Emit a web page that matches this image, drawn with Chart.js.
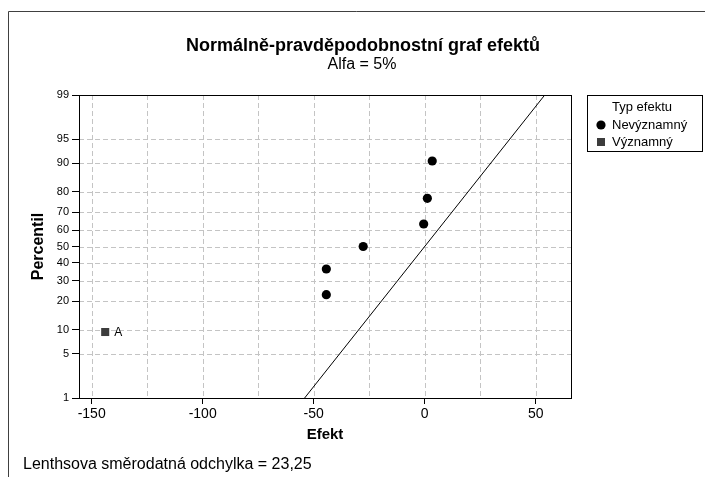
<!DOCTYPE html>
<html><head><meta charset="utf-8">
<script src="https://cdn.jsdelivr.net/npm/chart.js@4"></script>
<style>html,body{margin:0;padding:0;background:#fff}#wrap{position:relative;width:705px;height:477px}canvas{display:block}</style>
</head><body><div id="wrap"><canvas id="c" width="705" height="477"></canvas></div>
<script>
// ---- data ----
const significantEffects = [-143.9];
const significantPercentiles = [9.46];
const significantLabels = ['A'];
const insignificantEffects = [-44.3, -44.3, -27.7, -0.45, 1.2, 3.4];
const insignificantPercentiles = [22.97, 36.49, 50, 63.51, 77.03, 90.54];
const lineEffects = [-54.08, 54.08];
const linePercentiles = [1, 99];
const percentTicks = [1, 5, 10, 20, 30, 40, 50, 60, 70, 80, 90, 95, 99];
const effectTicks = [-150, -125, -100, -75, -50, -25, 0, 25, 50];
const effectLabels = ['-150', '', '-100', '', '-50', '', '0', '', '50'];
const titleText = 'Normálně-pravděpodobnostní graf efektů';
const subtitleText = 'Alfa = 5%';
const xTitle = 'Efekt';
const yTitle = 'Percentil';
const footerText = 'Lenthsova směrodatná odchylka = 23,25';
const legendTitle = 'Typ efektu';
const legendNames = ['Nevýznamný', 'Významný'];

const FONT = "'Liberation Sans', Arial, sans-serif";

function invNorm(p){
  const a=[-3.969683028665376e+01,2.209460984245205e+02,-2.759285104469687e+02,1.383577518672690e+02,-3.066479806614716e+01,2.506628277459239e+00];
  const b=[-5.447609879822406e+01,1.615858368580409e+02,-1.556989798598866e+02,6.680131188771972e+01,-1.328068155288572e+01];
  const c=[-7.784894002430293e-03,-3.223964580411365e-01,-2.400758277161838e+00,-2.549732539343734e+00,4.374664141464968e+00,2.938163982698783e+00];
  const d=[7.784695709041462e-03,3.224671290700398e-01,2.445134137142996e+00,3.754408661907416e+00];
  const pl=0.02425, ph=1-pl; let q, r;
  if(p<pl){q=Math.sqrt(-2*Math.log(p));return (((((c[0]*q+c[1])*q+c[2])*q+c[3])*q+c[4])*q+c[5])/((((d[0]*q+d[1])*q+d[2])*q+d[3])*q+1);}
  if(p<=ph){q=p-0.5;r=q*q;return (((((a[0]*r+a[1])*r+a[2])*r+a[3])*r+a[4])*r+a[5])*q/(((((b[0]*r+b[1])*r+b[2])*r+b[3])*r+b[4])*r+1);}
  q=Math.sqrt(-2*Math.log(1-p));return -(((((c[0]*q+c[1])*q+c[2])*q+c[3])*q+c[4])*q+c[5])/((((d[0]*q+d[1])*q+d[2])*q+d[3])*q+1);
}
const zMin = invNorm(0.01), zMax = invNorm(0.99);
const pts = (xs, ps) => xs.map((x, i) => ({x: x, y: invNorm(ps[i] / 100)}));

const decor = {
  id: 'decor',
  beforeDatasetsDraw(chart){
    const {ctx, chartArea: ca, scales: {x, y}} = chart;
    ctx.save();
    ctx.strokeStyle = '#c4c4c4'; ctx.lineWidth = 1; ctx.setLineDash([5, 3]);
    effectTicks.forEach(v => {
      const px = Math.round(x.getPixelForValue(v)) + 0.5;
      ctx.beginPath(); ctx.moveTo(px, ca.top); ctx.lineTo(px, ca.bottom); ctx.stroke();
    });
    percentTicks.slice(1, -1).forEach(p => {
      const py = Math.round(y.getPixelForValue(invNorm(p / 100))) + 0.5;
      ctx.beginPath(); ctx.moveTo(ca.left, py); ctx.lineTo(ca.right, py); ctx.stroke();
    });
    ctx.restore();
  },
  afterDraw(chart){
    const {ctx, chartArea: ca, scales: {x, y}} = chart;
    ctx.save();
    // plot box
    ctx.strokeStyle = '#000'; ctx.lineWidth = 1; ctx.setLineDash([]);
    ctx.strokeRect(Math.round(ca.left) + 0.5, Math.round(ca.top) + 0.5, Math.round(ca.right - ca.left), Math.round(ca.bottom - ca.top));
    // outer frame (left & top)
    ctx.strokeStyle = '#404040';
    ctx.beginPath(); ctx.moveTo(8.5, 477); ctx.lineTo(8.5, 11.5); ctx.lineTo(705, 11.5); ctx.stroke();
    ctx.fillStyle = '#000';
    ctx.textBaseline = 'middle';
    // titles
    ctx.textAlign = 'center';
    ctx.font = 'bold 18px ' + FONT; ctx.fillText(titleText, 363, 46);
    ctx.font = '16px ' + FONT; ctx.fillText(subtitleText, 362, 65);
    ctx.font = 'bold 15px ' + FONT; ctx.fillText(xTitle, (ca.left + ca.right) / 2, 435);
    ctx.save(); ctx.translate(39, (ca.top + ca.bottom) / 2); ctx.rotate(-Math.PI / 2);
    ctx.font = 'bold 16px ' + FONT; ctx.fillText(yTitle, 0, 0); ctx.restore();
    ctx.textAlign = 'left';
    ctx.font = '16px ' + FONT; ctx.fillText(footerText, 23, 465);
    // point label
    ctx.font = '12px ' + FONT;
    significantEffects.forEach((v, i) => {
      ctx.fillText(significantLabels[i], x.getPixelForValue(v) + 9, y.getPixelForValue(invNorm(significantPercentiles[i] / 100)) + 1);
    });
    // legend
    ctx.strokeStyle = '#000';
    ctx.strokeRect(587.5, 95.5, 115, 56);
    ctx.font = '13px ' + FONT; ctx.textAlign = 'center';
    ctx.fillText(legendTitle, 642, 107);
    ctx.textAlign = 'left';
    ctx.beginPath(); ctx.arc(601, 125, 4.6, 0, Math.PI * 2); ctx.fill();
    ctx.fillText(legendNames[0], 612, 125);
    ctx.fillStyle = '#3c3c3c'; ctx.fillRect(597, 138, 8, 8);
    ctx.fillStyle = '#000';
    ctx.fillText(legendNames[1], 612, 142);
    ctx.restore();
  }
};

new Chart(document.getElementById('c'), {
  type: 'scatter',
  data: {
    datasets: [
      {label: 'line', data: pts(lineEffects, linePercentiles), showLine: true, borderColor: '#000', borderWidth: 1, pointRadius: 0, pointHoverRadius: 0, fill: false},
      {label: legendNames[0], data: pts(insignificantEffects, insignificantPercentiles), pointStyle: 'circle', pointRadius: 4.6, pointBorderWidth: 0, backgroundColor: '#000', borderColor: '#000'},
      {label: legendNames[1], data: pts(significantEffects, significantPercentiles), pointStyle: 'rect', pointRadius: 5.7, pointBorderWidth: 0, backgroundColor: '#3c3c3c', borderColor: '#3c3c3c'}
    ]
  },
  options: {
    responsive: false, animation: false, devicePixelRatio: 1,
    layout: {padding: {left: 0, top: 95, right: 134, bottom: 0}},
    plugins: {legend: {display: false}, title: {display: false}, tooltip: {enabled: false}},
    scales: {
      x: {
        type: 'linear', min: -155.7, max: 65.9,
        afterFit: s => { s.height = 79; },
        afterBuildTicks: s => { s.ticks = effectTicks.map(v => ({value: v})); },
        ticks: {autoSkip: false, maxRotation: 0, padding: 2, color: '#000', font: {family: FONT, size: 14},
          callback: (v, i) => effectLabels[i]},
        grid: {drawOnChartArea: false, drawTicks: true, tickLength: 6, tickColor: c => effectLabels[c.index] ? '#000' : 'rgba(0,0,0,0)'},
        border: {display: true, color: '#000', width: 1}
      },
      y: {
        type: 'linear', min: zMin, max: zMax,
        afterFit: s => { s.width = 79; },
        afterBuildTicks: s => { s.ticks = percentTicks.map(p => ({value: invNorm(p / 100)})); },
        ticks: {autoSkip: false, padding: 3, color: '#000', font: {family: FONT, size: 11},
          callback: (v, i) => String(percentTicks[i])},
        grid: {drawOnChartArea: false, drawTicks: true, tickLength: 7, tickColor: '#000'},
        border: {display: true, color: '#000', width: 1}
      }
    }
  },
  plugins: [decor]
});
</script>
</body></html>
